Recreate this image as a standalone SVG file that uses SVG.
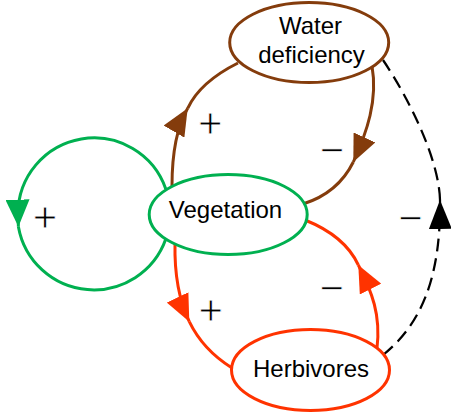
<svg xmlns="http://www.w3.org/2000/svg" width="451" height="416" viewBox="0 0 451 416">
<style>
.node{fill:#fff;stroke-width:3}
.wd{stroke:#843C0C}
.veg{stroke:#00B050}
.herb{stroke:#FF3300}
.lbl{font-family:"Liberation Sans",Arial,sans-serif;font-size:24px;fill:#000;text-anchor:middle}
.sign{font-family:"Liberation Sans",Arial,sans-serif;font-size:42px;fill:#000;stroke:#fff;stroke-width:0.9;text-anchor:middle}
.c{fill:none;stroke-width:3}
.brown{stroke:#843C0C}
.green{stroke:#00B050}
.red{stroke:#FF3300}
.dash{fill:none;stroke:#000;stroke-width:2.25;stroke-dasharray:13 7}
</style>
<defs>
<marker id="ah-green" markerUnits="userSpaceOnUse" viewBox="0 0 27 24" refX="27" refY="12" markerWidth="27" markerHeight="24" orient="auto"><path d="M0,0L27,12L0,24Z" fill="#00B050" stroke="none"/></marker>
<marker id="ah-brown" markerUnits="userSpaceOnUse" viewBox="0 0 27 24" refX="27" refY="12" markerWidth="27" markerHeight="24" orient="auto"><path d="M0,0L27,12L0,24Z" fill="#843C0C" stroke="none"/></marker>
<marker id="ah-red" markerUnits="userSpaceOnUse" viewBox="0 0 27 24" refX="27" refY="12" markerWidth="27" markerHeight="24" orient="auto"><path d="M0,0L27,12L0,24Z" fill="#FF3300" stroke="none"/></marker>
<marker id="ah-black" markerUnits="userSpaceOnUse" viewBox="0 0 29 23" refX="29" refY="11.5" markerWidth="29" markerHeight="23" orient="auto"><path d="M0,0L29,11.5L0,23Z" fill="#000" stroke="none"/></marker>
</defs>
<g id="connectors">
<path class="c green" d="M165.8,189 A76,76 0 0 0 18,214 L18.4,226.7" marker-end="url(#ah-green)"/>
<path class="c green" d="M18.4,226.7 A76.5,76.5 0 0 0 165.8,239"/>
<path class="c brown" d="M172,186 Q172,135 187.7,108.3" marker-end="url(#ah-brown)"/>
<path class="c brown" d="M187.7,108.3 Q200,82 238,63"/>
<path class="c brown" d="M372,66 C378,100 367,132 353.3,162" marker-end="url(#ah-brown)"/>
<path class="c brown" d="M353.3,162 Q338,193 303,204"/>
<path class="c red" d="M175,243 Q174,290 189.3,321.7" marker-end="url(#ah-red)"/>
<path class="c red" d="M189.3,321.7 Q203,350 232,368"/>
<path class="c red" d="M377,348 C381,315 372,292 358.3,265" marker-end="url(#ah-red)"/>
<path class="c red" d="M358.3,265 Q345,236 305,220"/>
<path class="dash" d="M383,355 C420,325 441,280 440,200" marker-end="url(#ah-black)"/>
<path class="dash" d="M440,200 C439,160 410,100 383,60"/>
</g>
<g id="water-deficiency">
<ellipse class="node wd" cx="309.2" cy="42.5" rx="79.5" ry="40"/>
<text class="lbl" x="310.5" y="33.5">Water</text>
<text class="lbl" x="311.5" y="63">deficiency</text>
</g>
<g id="vegetation">
<ellipse class="node veg" cx="228.2" cy="214.5" rx="79" ry="40"/>
<text class="lbl" x="225.5" y="218.3">Vegetation</text>
</g>
<g id="herbivores">
<ellipse class="node herb" cx="310.5" cy="370" rx="79" ry="40.5"/>
<text class="lbl" x="311" y="376.7">Herbivores</text>
</g>
<g id="labels">
<text class="sign" x="45" y="231.8">+</text>
<text class="sign" x="210.3" y="138.1">+</text>
<text class="sign" x="332" y="163.8">−</text>
<text class="sign" x="210.8" y="324.8">+</text>
<text class="sign" x="331.7" y="301.5">−</text>
<text class="sign" x="410.5" y="232.1">−</text>
</g>
</svg>
